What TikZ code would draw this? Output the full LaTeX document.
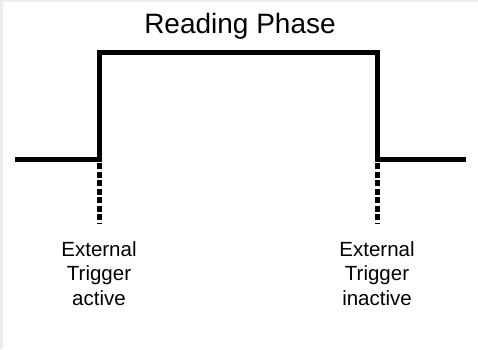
\documentclass[tikz,border=0pt]{standalone}
\usepackage{fontspec}
\setmainfont{Liberation Sans}
\usetikzlibrary{positioning}

\begin{document}
\begin{tikzpicture}[
  x=1pt, y=-1pt,
  signal/.style={line width=5pt, line join=miter},
  trig/.style={line width=5pt, dash pattern=on 6pt off 2.5pt},
  lbl/.style={align=center, inner sep=0pt, font=\fontsize{20.5}{24.5}\selectfont},
]
% --- frame ---
\fill[black!7] (0,0) rectangle (478,349);
\fill[white] (3,2) rectangle (478,349);

% --- title ---
\node[anchor=base, inner sep=0pt, font=\fontsize{28}{32}\selectfont] (title) at (240,33) {Reading Phase};

% --- signal ---
\coordinate (lo0) at (15,159.5);
\coordinate (up) at (99,159.5);
\coordinate (upt) at (99,52.5);
\coordinate (dnt) at (377,52.5);
\coordinate (dn) at (377,159.5);
\coordinate (lo1) at (466,159.5);
\draw[signal] (lo0) -- (up) -- (upt) -- (dnt) -- (dn) -- (lo1);

% --- trigger markers ---
\coordinate (ta) at (99,223);
\coordinate (ti) at (377,223);
\draw[trig] (up) ++(0,3.5) -- (ta);
\draw[trig] (dn) ++(0,3.5) -- (ti);

\node[lbl, anchor=north] (act) at (99,241) {External\\Trigger\\active};
\node[lbl, anchor=north] (inact) at (377,241) {External\\Trigger\\inactive};
\end{tikzpicture}
\end{document}
